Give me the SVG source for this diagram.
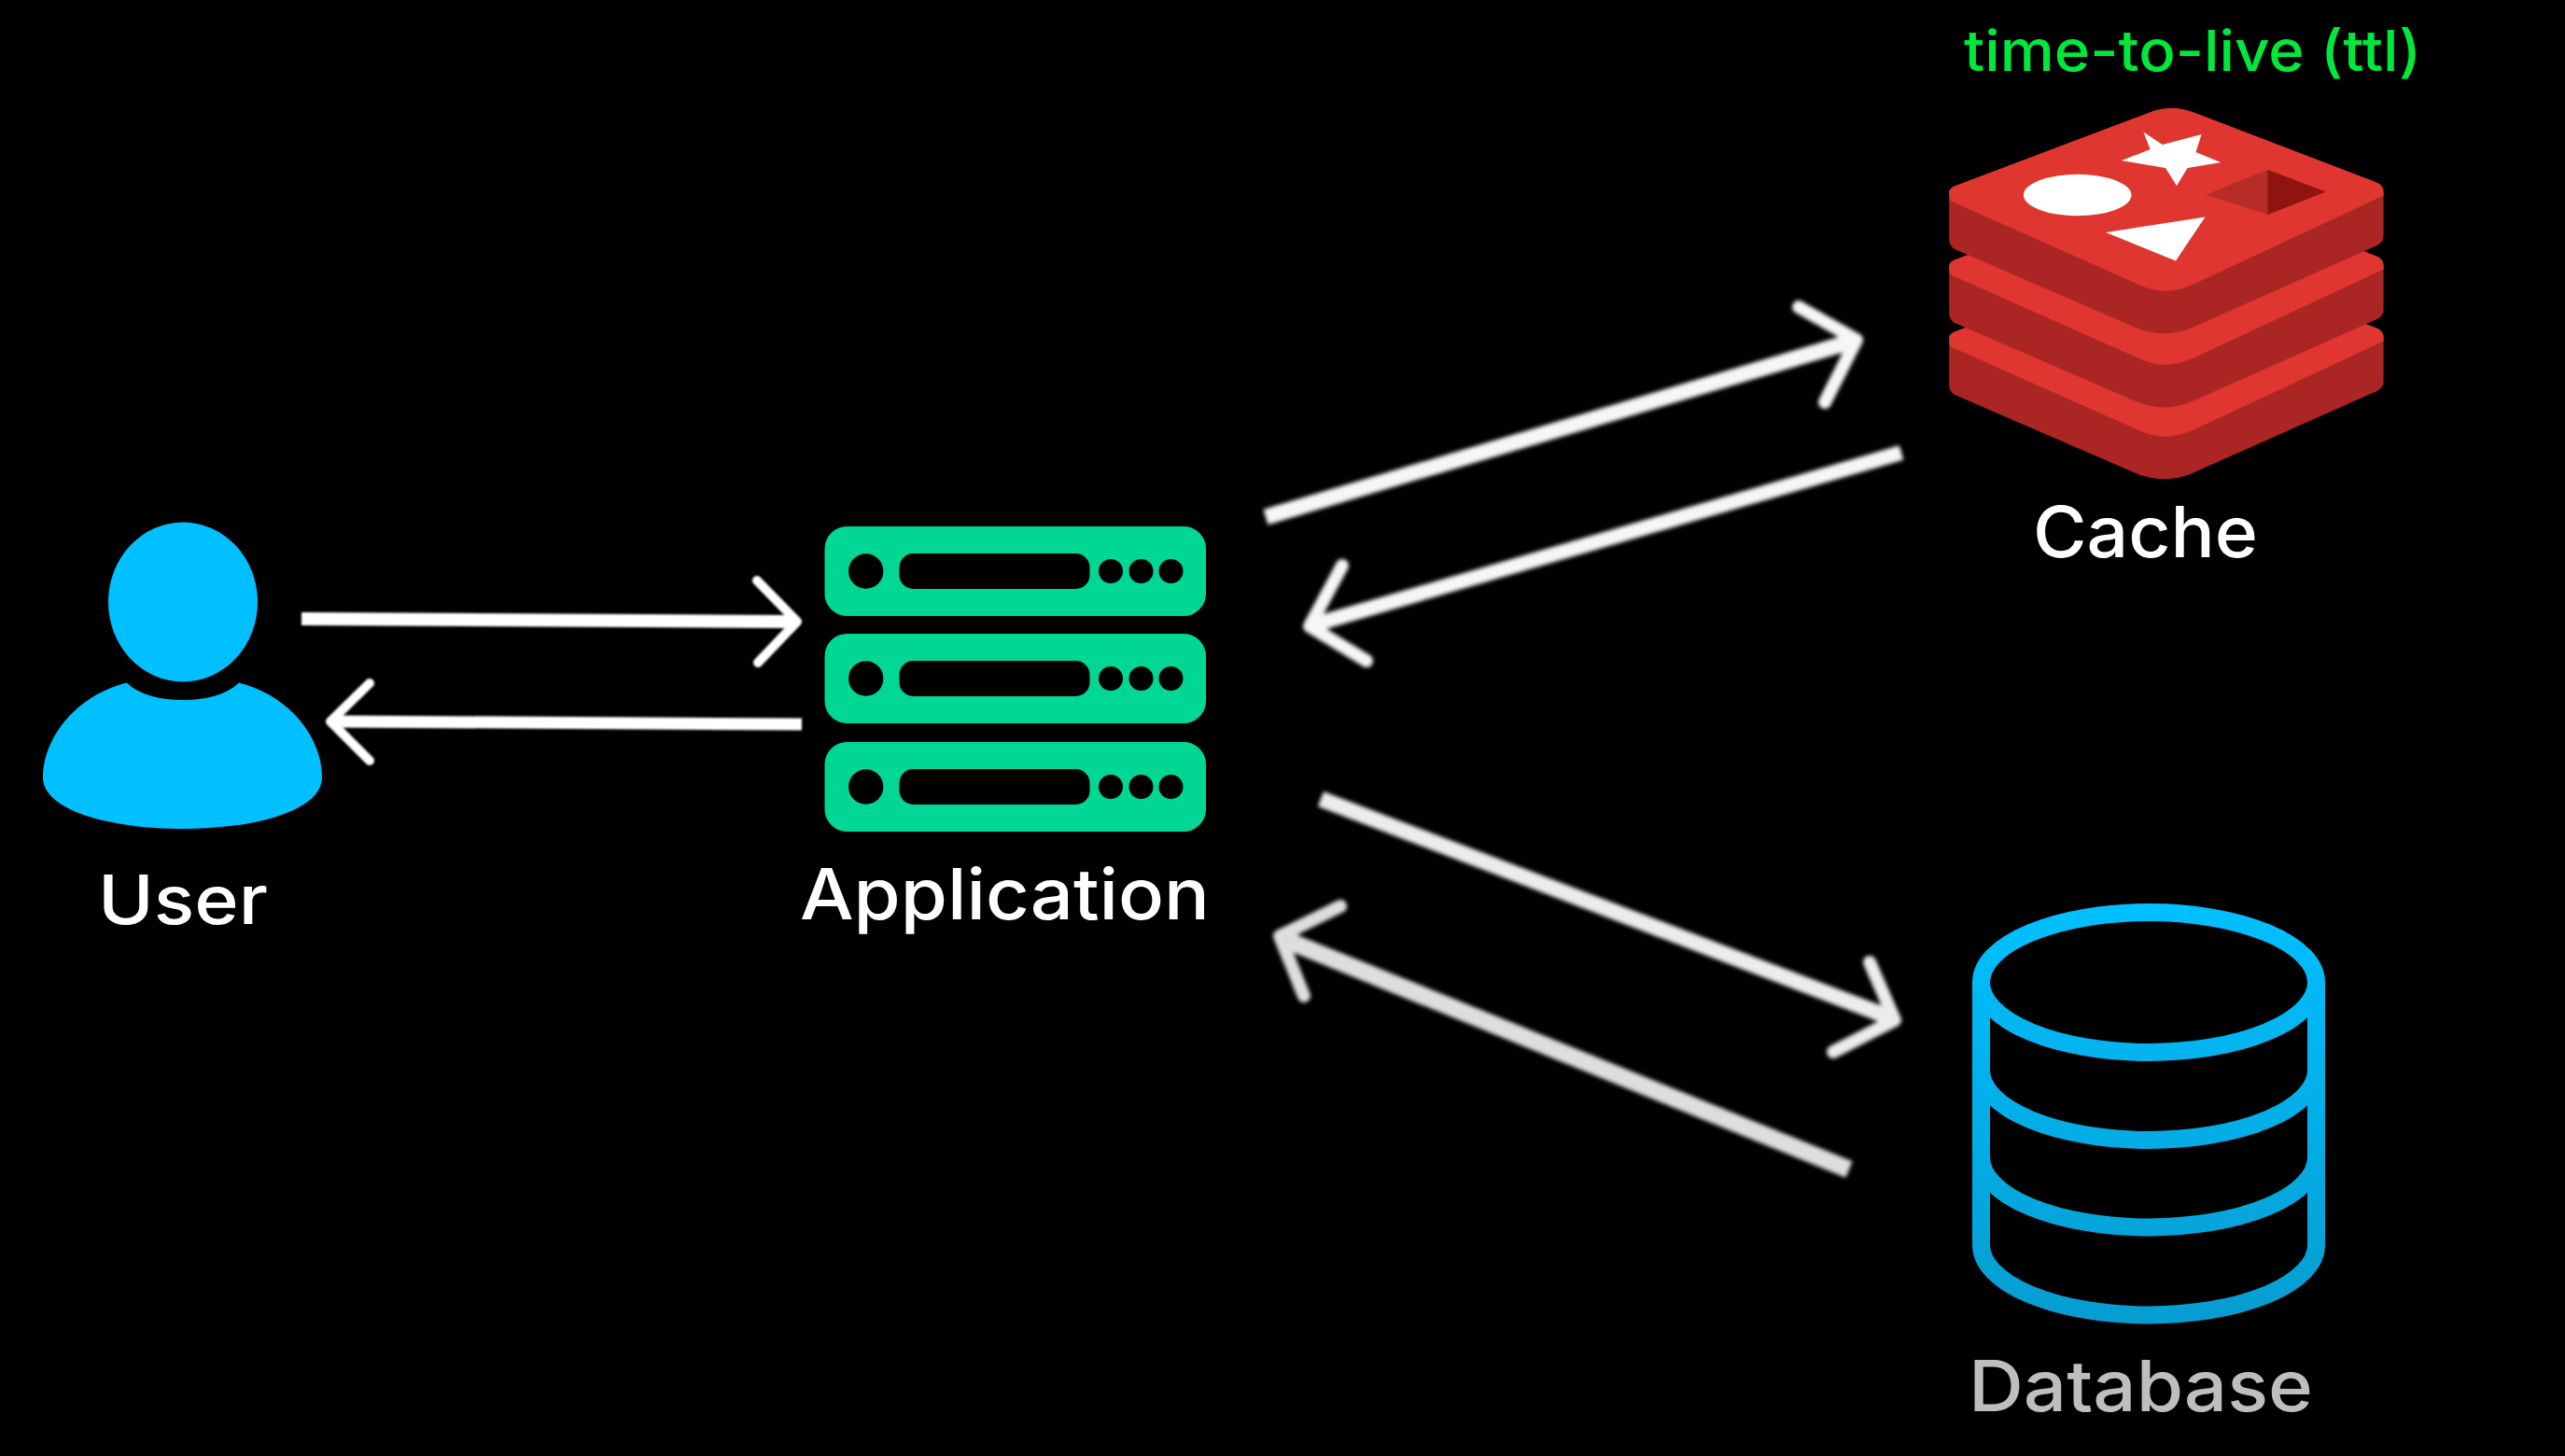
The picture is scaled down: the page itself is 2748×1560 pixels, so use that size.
<svg xmlns="http://www.w3.org/2000/svg" xmlns:xlink="http://www.w3.org/1999/xlink" width="2748" height="1560" viewBox="0 0 2748 1560">
<style>
.label{font-family:"Inter","Liberation Sans",sans-serif;font-weight:500}
.srv{fill:#00D794}
.hole{fill:#000}
.shaft{fill:none;stroke-linecap:butt}
.head{fill:none;stroke-linecap:round;stroke-linejoin:round}
.surf{fill:#DF372F}
.side{fill:#AB2524}
</style>
<defs>
<linearGradient id="dbg" gradientUnits="userSpaceOnUse" x1="0" y1="967" x2="0" y2="1418">
<stop offset="0" stop-color="#00C0FF"/><stop offset="1" stop-color="#069DD0"/>
</linearGradient>
<filter id="soft" filterUnits="userSpaceOnUse" x="0" y="0" width="2748" height="1560"><feGaussianBlur stdDeviation="1.3"/></filter>
<filter id="softer" filterUnits="userSpaceOnUse" x="0" y="0" width="2748" height="1560"><feGaussianBlur stdDeviation="2.2"/></filter>
<g id="rlayer">
<path class="side" d="M2088.2 205.5V257Q2088.5 263 2093.6 266.8L2290 351.8Q2318.6 363 2347 351.8L2547 262.8Q2553.6 259 2553.6 253V205.5Z"/>
<path class="surf" d="M2088.2 205.5Q2088.5 202 2093.6 199.6L2307.9 118.6Q2329.3 112 2350.7 120.6L2547 195.7Q2553.6 199 2553.6 205.5V209.5L2350.7 304.3Q2318.6 319 2290 304.3L2090 215.4Q2088 212 2088.2 205.5Z"/>
</g>
<g id="rack">
<rect class="srv" x="883.5" y="0" width="408.5" height="96" rx="24"/>
<circle class="hole" cx="927.7" cy="48" r="18.7"/>
<rect class="hole" x="963.5" y="29" width="204" height="38" rx="15"/>
<circle class="hole" cx="1190" cy="48" r="13"/>
<circle class="hole" cx="1222.5" cy="48" r="13"/>
<circle class="hole" cx="1254.5" cy="48" r="13"/>
</g>
</defs>
<rect width="2748" height="1560" fill="#000"/>
<g id="connectors">
<g id="user-to-app" stroke="#fff" filter="url(#soft)">
<path class="shaft" stroke-width="14" d="M323 663L848 666"/><path class="head" stroke-width="10" d="M811 622L854 666L812 710"/>
</g>
<g id="app-to-user" stroke="#fff" filter="url(#soft)">
<path class="shaft" stroke-width="13" d="M859 776L360 773"/><path class="head" stroke-width="10" d="M396 732L354 773L396 815"/>
</g>
<g id="app-to-cache" stroke="#f6f6f6" filter="url(#softer)">
<path class="shaft" stroke-width="17" d="M1356 554L1980 367"/><path class="head" stroke-width="14" d="M1927 329L1989 364L1955 431"/>
</g>
<g id="cache-to-app" stroke="#f6f6f6" filter="url(#softer)">
<path class="shaft" stroke-width="16" d="M2037 485L1412 668"/><path class="head" stroke-width="14" d="M1438 606L1403 671L1464 708"/>
</g>
<g id="app-to-db" stroke="#ececec" filter="url(#softer)">
<path class="shaft" stroke-width="17" d="M1415 856L2022 1089"/><path class="head" stroke-width="14" d="M2003 1031L2030 1093L1964 1127"/>
</g>
<g id="db-to-app" stroke="#dedede" filter="url(#softer)">
<path class="shaft" stroke-width="19" d="M1981 1253L1380 1008"/><path class="head" stroke-width="14" d="M1436 971L1371 1003L1397 1067"/>
</g>
</g>
<g id="user">
<ellipse cx="196" cy="645" rx="80" ry="85.5" fill="#00C0FF"/>
<path fill="#00C0FF" d="M135.5 731.5C150 745 172 750 196 750C220 750 242 745 256 731.5C310 745 345 790 345 833C345 868 275 888 196 888C117 888 46 868 46 833C46 790 82 745 135.5 731.5Z"/>
<text class="label" x="105" y="990" font-size="73" fill="#fff" textLength="182" lengthAdjust="spacingAndGlyphs">User</text>
</g>
<g id="application">
<use xlink:href="#rack" href="#rack" y="564"/>
<use xlink:href="#rack" href="#rack" y="679"/>
<use xlink:href="#rack" href="#rack" y="795"/>
<text class="label" x="857" y="985" font-size="76" fill="#fff" textLength="439" lengthAdjust="spacingAndGlyphs">Application</text>
</g>
<g id="cache">
<text class="label" x="2104" y="76" font-size="61" fill="#00E83C" textLength="490" lengthAdjust="spacingAndGlyphs">time-to-live (ttl)</text>
<use xlink:href="#rlayer" href="#rlayer" y="156"/>
<use xlink:href="#rlayer" href="#rlayer" y="79"/>
<use xlink:href="#rlayer" href="#rlayer"/>
<ellipse cx="2225.7" cy="209" rx="57.8" ry="22.3" fill="#fff"/>
<path fill="#fff" d="M2296.4 141.5L2316.8 155L2358.6 144L2352.5 163L2379.3 174L2343.6 180L2332 199L2320 180L2272.9 172L2303.6 160Z"/>
<path fill="#fff" d="M2256 249L2362.5 232.4L2331 279.4Z"/>
<path fill="#B82C28" d="M2363 208.7L2429.3 181.8V230Z"/>
<path fill="#8F1410" d="M2429.3 181.8L2491.8 205.5L2429.3 230Z"/>
<text class="label" x="2178" y="597" font-size="76" fill="#fff" textLength="241" lengthAdjust="spacingAndGlyphs">Cache</text>
</g>
<g id="database">
<g fill="none" stroke="url(#dbg)" stroke-width="19">
<ellipse cx="2302" cy="1052.5" rx="179.5" ry="75"/>
<path d="M2122.5 1052V1334A179.5 75 0 0 0 2481.5 1334V1052"/>
<path d="M2122.5 1146.5A179.5 75 0 0 0 2481.5 1146.5"/>
<path d="M2122.5 1240A179.5 75 0 0 0 2481.5 1240"/>
</g>
<text class="label" x="2109" y="1512" font-size="76" fill="#BEBEBE" textLength="369" lengthAdjust="spacingAndGlyphs">Database</text>
</g>
</svg>
